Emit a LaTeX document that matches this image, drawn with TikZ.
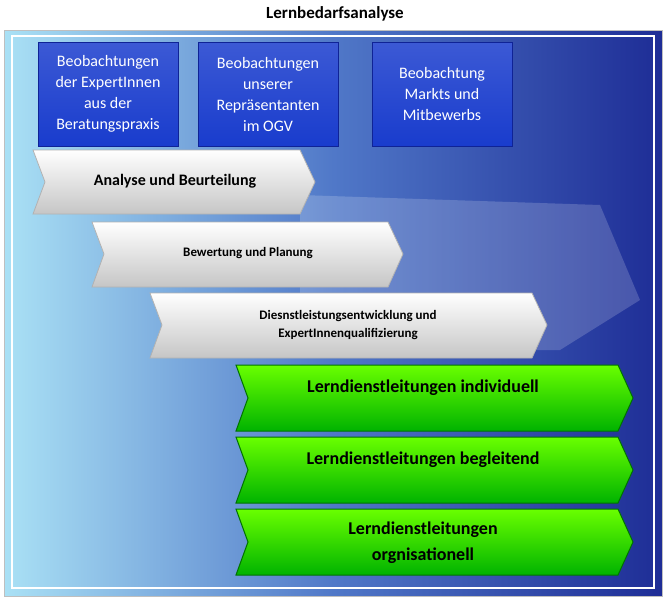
\documentclass[tikz,border=0pt]{standalone}
\usepackage{fontspec}
\setmainfont{Carlito}
\definecolor{bgl}{RGB}{170,225,245}
\definecolor{bgm}{RGB}{80,120,200}
\definecolor{bgr}{RGB}{30,45,150}
\definecolor{bx}{RGB}{25,60,205}
\definecolor{bxd}{RGB}{15,35,150}
\begin{document}
\begin{tikzpicture}[x=1pt,y=-1pt,
 bbox/.style={draw=bxd,top color=bx!85!white,bottom color=bx,text=white,minimum width=140pt,minimum height=104pt,align=center,font=\fontsize{16}{21}\selectfont,inner sep=2pt},
 grey/.style={draw=gray!60,top color=white,bottom color=gray!45,line width=0.8pt},
 green/.style={draw=green!45!black,top color=green!45!lime,bottom color=green!70!black,line width=1pt},
 lab/.style={font=\bfseries,align=center}]
\useasboundingbox (0,0) rectangle (671,600);
\node[font=\bfseries\fontsize{17}{20}\selectfont] (title) at (335,14) {Lernbedarfsanalyse};
\shade[left color=bgl, right color=bgr, middle color=bgm] (4,30) rectangle (662,596);
\draw[white,line width=1.5pt] (12,36) rectangle (654,588);
\draw[gray!50] (4,30) rectangle (662,596);
\fill[white,opacity=0.18] (300,195) -- (600,205) -- (640,300) -- (560,350) -- (300,350) -- cycle;
\node[bbox] (b1) at (108,94) {Beobachtungen\\der ExpertInnen\\aus der\\Beratungspraxis};
\node[bbox] (b2) at (268,94) {Beobachtungen\\unserer\\Repräsentanten\\im OGV};
\node[bbox] (b3) at (442,94) {Beobachtung\\Markts und\\Mitbewerbs};
\shadedraw[grey] (33,150) -- (300,150) -- (315,182) -- (300,214) -- (33,214) -- (45,182) -- cycle;
\node[lab,font=\bfseries\fontsize{16}{19}\selectfont] (g1) at (175,181) {Analyse und Beurteilung};
\shadedraw[grey] (92,222) -- (388,222) -- (403,254) -- (388,287) -- (92,287) -- (104,254) -- cycle;
\node[lab,font=\bfseries\fontsize{13}{16}\selectfont] (g2) at (248,253) {Bewertung und Planung};
\shadedraw[grey] (150,293) -- (532,293) -- (547,325) -- (532,358) -- (150,358) -- (162,325) -- cycle;
\node[lab,font=\bfseries\fontsize{13}{18}\selectfont] (g3) at (348,325) {Diesnstleistungsentwicklung und\\ExpertInnenqualifizierung};
\shadedraw[green] (236,365) -- (618,365) -- (633,398) -- (618,431) -- (236,431) -- (248,398) -- cycle;
\node[lab,font=\bfseries\fontsize{18}{22}\selectfont] (n1) at (423,388) {Lerndienstleitungen individuell};
\shadedraw[green] (236,437) -- (618,437) -- (633,470) -- (618,503) -- (236,503) -- (248,470) -- cycle;
\node[lab,font=\bfseries\fontsize{18}{22}\selectfont] (n2) at (423,460) {Lerndienstleitungen begleitend};
\shadedraw[green] (236,509) -- (618,509) -- (633,542) -- (618,575) -- (236,575) -- (248,542) -- cycle;
\node[lab,font=\bfseries\fontsize{18}{26}\selectfont] (n3) at (423,543) {Lerndienstleitungen\\orgnisationell};
\end{tikzpicture}
\end{document}
